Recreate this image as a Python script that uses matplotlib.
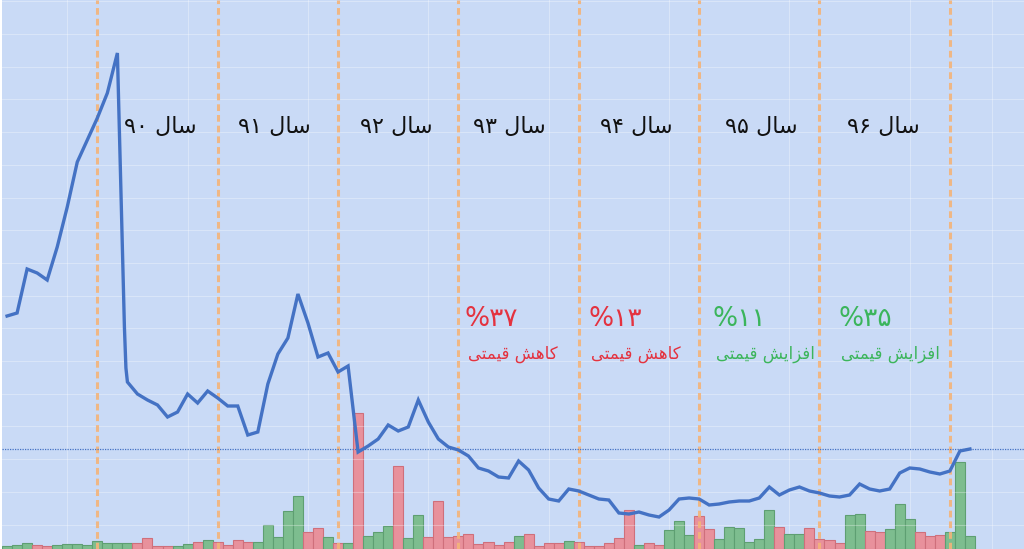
import numpy as np
import matplotlib
matplotlib.use("Agg")
import matplotlib.pyplot as plt

plt.rcParams['font.family'] = ['DejaVu Sans']

# ---------------- data ----------------
# price line: month index (a few extra points during the sharp fall)
price_x = [0, 1, 2, 3, 4, 5, 6, 7, 8, 9, 10, 11, 11.7, 11.85,
           12, 13, 14, 15, 16, 17, 18, 19, 20, 21, 22, 23, 24, 25, 26, 27, 28, 29,
           30, 31, 32, 33, 34, 35, 36, 37, 38, 39, 40, 41, 42, 43, 44, 45, 46, 47,
           48, 49, 50, 51, 52, 53, 54, 55, 56, 57, 58, 59, 60, 61, 62, 63, 64, 65,
           66, 67, 68, 69, 70, 71, 72, 73, 74, 75, 76, 77, 78, 79, 80, 81, 82, 83,
           84, 85, 86, 87, 88, 89, 90, 91, 92, 93, 94, 95, 96]
price = [4660, 4720, 5600, 5520, 5380, 6040, 6840, 7740, 8180, 8620, 9120, 9920, 4440, 3620,
         3340, 3100, 2980, 2880, 2640, 2740, 3100, 2920, 3160, 3020, 2860, 2860, 2280, 2340,
         3300, 3900, 4220, 5100, 4520, 3840, 3920, 3540, 3660, 1940, 2060, 2200, 2480, 2360,
         2440, 2980, 2540, 2200, 2040, 1980, 1860, 1620, 1560, 1440, 1420, 1760, 1580, 1220,
         1000, 960, 1200, 1160, 1080, 1000, 980, 720, 700, 740, 680, 640, 780, 1000, 1020,
         1000, 880, 900, 940, 960, 960, 1020, 1240, 1080, 1180, 1240, 1160, 1120, 1060, 1040,
         1080, 1300, 1200, 1160, 1200, 1520, 1620, 1600, 1540, 1500, 1560, 1960, 2000]

# monthly volume and direction (1 = up / green, 0 = down / red)
volume = [30, 40, 60, 40, 30, 40, 50, 50, 40, 80, 60, 60, 60, 60, 110, 30, 30, 30, 50, 70,
          90, 70, 40, 90, 70, 70, 240, 120, 380, 530, 170, 210, 120, 60, 60, 1360, 130, 170,
          230, 830, 110, 340, 120, 480, 120, 130, 150, 50, 70, 40, 70, 130, 150, 30, 60, 60,
          80, 70, 30, 30, 60, 110, 390, 40, 60, 40, 190, 280, 140, 330, 200, 100, 220, 210,
          70, 100, 390, 220, 150, 150, 210, 100, 90, 60, 340, 350, 180, 170, 200, 450, 300,
          170, 130, 140, 170, 870, 130]
direction = [1, 1, 1, 0, 0, 1, 1, 1, 1, 1, 1, 1, 1, 0, 0, 0, 0, 1, 1, 0,
             1, 0, 0, 0, 0, 1, 1, 1, 1, 1, 0, 0, 1, 0, 1, 0, 1, 1, 1, 0,
             1, 1, 0, 0, 0, 0, 0, 0, 0, 0, 0, 1, 0, 0, 0, 0, 1, 0, 0, 0,
             0, 0, 0, 1, 0, 0, 1, 1, 1, 0, 0, 1, 1, 1, 1, 1, 1, 0, 1, 1,
             0, 0, 0, 0, 1, 1, 0, 0, 1, 1, 1, 0, 0, 0, 1, 1, 1]

# year boundaries (month index)
year_bounds = [9, 21, 33, 45, 57, 69, 81, 94]
last_price = 2000

# labels (Persian, written in visual order with presentation forms)
SAL = "\uFEDD\uFE8E\uFEB3"                     # سال
year_labels = ["\u06F9\u06F0 " + SAL, "\u06F9\u06F1 " + SAL, "\u06F9\u06F2 " + SAL,
               "\u06F9\u06F3 " + SAL, "\u06F9\u06F4 " + SAL, "\u06F9\u06F5 " + SAL,
               "\u06F9\u06F6 " + SAL]
KAHESH = "\uFEF0\uFE98\uFEE4\uFEF4\uFED7 \uFEB6\uFEEB\uFE8E\uFEDB"        # کاهش قیمتی
AFZAYESH = "\uFEF0\uFE98\uFEE4\uFEF4\uFED7 \uFEB6\uFEF3\uFE8D\uFEB0\uFED3\uFE8D"  # افزایش قیمتی
change_labels = ["%\u06F3\u06F7", "%\u06F1\u06F3", "%\u06F1\u06F1", "%\u06F3\u06F5"]
change_sub = [KAHESH, KAHESH, AFZAYESH, AFZAYESH]
change_up = [0, 0, 1, 1]

# ---------------- style ----------------
BG = "#c9daf6"
LINE = "#4472c4"
ORANGE = "#f4b479"
GREEN_F, GREEN_E = "#7dbd8f", "#5e9f72"
RED_F, RED_E = "#e8919c", "#cf6f7b"
TXT_RED, TXT_GREEN = "#e4323f", "#3bb55b"

fig = plt.figure(figsize=(10.24, 5.49), dpi=100, facecolor="white")
ax = fig.add_axes([0.002, 0.0, 0.998, 1.0])
ax.set_facecolor(BG)
axp = ax.twinx()
axp.patch.set_visible(False)

n = len(volume)
idx = np.arange(n)
ax.bar(idx, volume, width=1.0,
       color=[GREEN_F if d else RED_F for d in direction],
       edgecolor=[GREEN_E if d else RED_E for d in direction], linewidth=0.8, zorder=2)
ax.set_ylim(0, 5490)
ax.set_xlim(-0.5, 1024 / 10.05 - 0.5)

# grid
for gx in np.arange(6, 100, 12):
    ax.axvline(gx, color="white", lw=0.8, alpha=0.3, zorder=1)
ax.axvline(98.2, color="white", lw=0.8, alpha=0.3, zorder=1)

axp.set_ylim(0, 10980)
for gy in np.arange(490, 10980, 654):
    axp.axhline(gy, color="white", lw=0.8, alpha=0.3, zorder=1)

for b in year_bounds:
    axp.axvline(b, color=ORANGE, lw=2.2, ls=(0, (2.2, 1.3)), alpha=0.9, zorder=3)

axp.axhline(last_price, color=LINE, lw=0.9, ls=(0, (1, 1)), zorder=3)
axp.plot(price_x, price, color=LINE, lw=2.4, zorder=4, solid_joinstyle="miter")

for a in (ax, axp):
    a.set_xticks([])
    a.set_yticks([])
    for s in a.spines.values():
        s.set_visible(False)

# year labels
year_cx = [160, 274, 396, 509, 636, 761, 883]
for cx, t in zip(year_cx, year_labels):
    fig.text(cx / 1024, 1 - 127 / 549, t, ha="center", va="center", fontsize=16, color="#111111")

# change labels
chg_x = [465, 588, 713, 838]
for x0, t, s, up in zip(chg_x, change_labels, change_sub, change_up):
    c = TXT_GREEN if up else TXT_RED
    fig.text(x0 / 1024, 1 - 319 / 549, t, ha="left", va="center", fontsize=19, color=c)
    fig.text((x0 + 3) / 1024, 1 - 354 / 549, s, ha="left", va="center", fontsize=12, color=c)

fig.savefig("out.png", dpi=100, facecolor="white")
